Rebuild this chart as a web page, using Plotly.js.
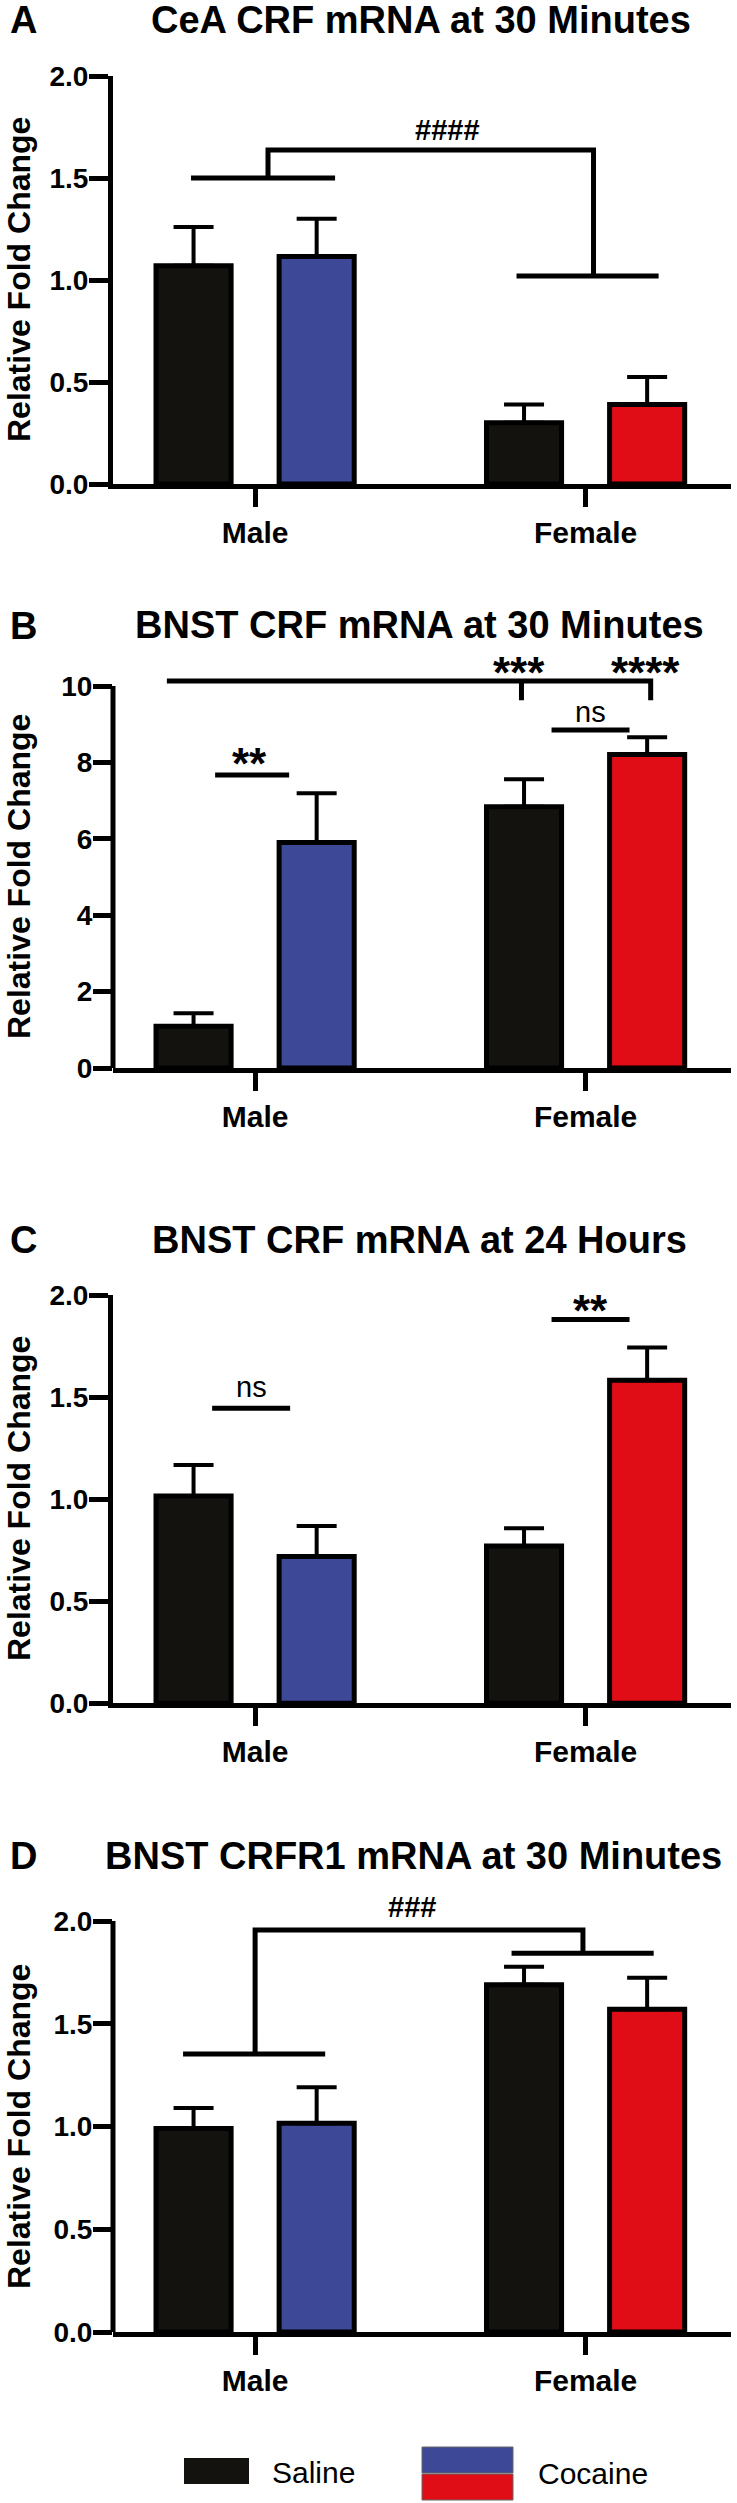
<!DOCTYPE html>
<html><head><meta charset="utf-8">
<script src="https://cdn.plot.ly/plotly-3.0.1.min.js"></script>
<style>html,body{margin:0;padding:0;background:#fff}#chart{width:737px;height:2503px}</style>
</head><body><div id="chart"></div>
<script>
// ---------------- DATA ----------------
const categories = ['Male', 'Female'];
const seriesNames = ['Saline', 'Cocaine'];
const panelLetters = ['A', 'B', 'C', 'D'];
const panelTitles = [
  'CeA CRF mRNA at 30 Minutes',
  'BNST CRF mRNA at 30 Minutes',
  'BNST CRF mRNA at 24 Hours',
  'BNST CRFR1 mRNA at 30 Minutes'
];
const yAxisTitle = 'Relative Fold Change';

// Panel A
const salineA = [1.07, 0.30];
const salineA_sem = [0.19, 0.09];
const cocaineA = [1.115, 0.39];
const cocaineA_sem = [0.185, 0.135];
// Panel B
const salineB = [1.09, 6.84];
const salineB_sem = [0.34, 0.72];
const cocaineB = [5.90, 8.21];
const cocaineB_sem = [1.29, 0.45];
// Panel C
const salineC = [1.016, 0.771];
const salineC_sem = [0.151, 0.086];
const cocaineC = [0.719, 1.582];
const cocaineC_sem = [0.149, 0.161];
// Panel D
const salineD = [0.99, 1.69];
const salineD_sem = [0.10, 0.088];
const cocaineD = [1.016, 1.571];
const cocaineD_sem = [0.175, 0.153];

const yTickValsSmall = [0, 0.5, 1, 1.5, 2];
const yTickTextSmall = ['0.0', '0.5', '1.0', '1.5', '2.0'];
const yTickValsB = [0, 2, 4, 6, 8, 10];
const yTickTextB = ['0', '2', '4', '6', '8', '10'];

const sigA = ['####'];
const sigB = ['**', '***', '****', 'ns'];
const sigC = ['ns', '**'];
const sigD = ['###'];

// ---------------- STYLE ----------------
const FONT = 'Liberation Sans, Arial, sans-serif';
const BLACK = '#13120e';
const BLUE = '#3d4996';
const RED = '#e00d16';
const W = 737, H = 2503;
const px2paperY = v => 1 - v / H;
const px2paperX = v => v / W;

const panels = [
  {sal: salineA, salE: salineA_sem, coc: cocaineA, cocE: cocaineA_sem,
   dom: [484, 76], range: [0, 2], tv: yTickValsSmall, tt: yTickTextSmall,
   titleY: 20, letterY: 20, titleX: 421, ytitleY: 280},
  {sal: salineB, salE: salineB_sem, coc: cocaineB, cocE: cocaineB_sem,
   dom: [1068, 666.9], range: [0, 10.5], tv: yTickValsB, tt: yTickTextB, hideLine: true, lineTop: 10,
   titleY: 625, letterY: 626, titleX: 420, ytitleY: 877},
  {sal: salineC, salE: salineC_sem, coc: cocaineC, cocE: cocaineC_sem,
   dom: [1703.3, 1295], range: [0, 2], tv: yTickValsSmall, tt: yTickTextSmall,
   titleY: 1240, letterY: 1240, titleX: 420, ytitleY: 1499},
  {sal: salineD, salE: salineD_sem, coc: cocaineD, cocE: cocaineD_sem,
   dom: [2332, 1890.2], range: [0, 2.15], tv: yTickValsSmall, tt: yTickTextSmall, hideLine: true, lineTop: 2,
   titleY: 1856, letterY: 1856, titleX: 413, ytitleY: 2127}
];

const traces = [];
const layout = {
  width: W, height: H,
  margin: {l: 0, r: 0, t: 0, b: 0},
  paper_bgcolor: '#fff', plot_bgcolor: '#fff',
  barmode: 'group', bargap: 0.255, bargroupgap: 0.39,
  showlegend: false,
  font: {family: FONT, color: '#000'},
  shapes: [], annotations: []
};

panels.forEach((p, i) => {
  const s = i === 0 ? '' : String(i + 1);
  const xa = 'x' + s, ya = 'y' + s;
  const errStyle = {type: 'data', symmetric: false, color: '#000', thickness: 4, width: 20};
  traces.push({
    type: 'bar', name: seriesNames[0], x: categories, y: p.sal,
    xaxis: xa, yaxis: ya,
    marker: {color: BLACK, line: {color: '#000', width: 5}},
    error_y: Object.assign({array: p.salE, arrayminus: p.salE.map(() => 0)}, errStyle),
    hoverinfo: 'skip'
  });
  traces.push({
    type: 'bar', name: seriesNames[1], x: categories, y: p.coc,
    xaxis: xa, yaxis: ya,
    marker: {color: [BLUE, RED], line: {color: '#000', width: 5}},
    error_y: Object.assign({array: p.cocE, arrayminus: p.cocE.map(() => 0)}, errStyle),
    hoverinfo: 'skip'
  });
  layout['xaxis' + s] = {
    domain: [113 / W, 731 / W], anchor: ya,
    type: 'category', categoryorder: 'array', categoryarray: categories,
    range: [-0.43, 1.44],
    showline: true, linewidth: 5, linecolor: '#000',
    ticks: 'outside', ticklen: 18, tickwidth: 5, tickcolor: '#000',
    tickfont: {family: FONT, size: 30, weight: 'bold', color: '#000'},
    showgrid: false, zeroline: false, fixedrange: true
  };
  layout['yaxis' + s] = {
    domain: [px2paperY(p.dom[0]), px2paperY(p.dom[1])], anchor: xa,
    range: p.range,
    showline: !p.hideLine, linewidth: 5, linecolor: '#000',
    ticks: 'outside', ticklen: 19, tickwidth: 5, tickcolor: '#000',
    tickvals: p.tv, ticktext: p.tt, ticklabelstandoff: -5,
    tickfont: {family: FONT, size: 28, weight: 'bold', color: '#000'},
    showgrid: false, zeroline: false, fixedrange: true
  };
  if (p.hideLine) {
    layout.shapes.push({type: 'line', xref: xa + ' domain', yref: ya,
      x0: 0, x1: 0, y0: 0, y1: p.lineTop, line: {color: '#000', width: 5}});
  }
  // panel letter
  layout.annotations.push({xref: 'paper', yref: 'paper', x: px2paperX(23), y: px2paperY(p.letterY),
    xanchor: 'center', yanchor: 'middle', showarrow: false, text: panelLetters[i],
    font: {family: FONT, size: 38, weight: 'bold', color: '#000'}});
  // title
  layout.annotations.push({xref: 'paper', yref: 'paper', x: px2paperX(p.titleX), y: px2paperY(p.titleY),
    xanchor: 'center', yanchor: 'middle', showarrow: false, text: panelTitles[i],
    font: {family: FONT, size: 38, weight: 'bold', color: '#000'}});
  // y axis title
  layout.annotations.push({xref: 'paper', yref: 'paper', x: px2paperX(19), y: px2paperY(p.ytitleY),
    xanchor: 'center', yanchor: 'middle', showarrow: false, text: yAxisTitle, textangle: -90,
    font: {family: FONT, size: 32, weight: 'bold', color: '#000'}});
});

// significance brackets
function bracket(s, path) {
  layout.shapes.push({type: 'path', xref: 'x' + s, yref: 'y' + s, path: path,
    line: {color: '#000', width: 5}});
}
function sig(s, text, x, y, size, bold) {
  layout.annotations.push({xref: 'x' + s, yref: 'y' + s, x: x, y: y, text: text,
    xanchor: 'center', yanchor: 'middle', showarrow: false,
    font: {family: FONT, size: size, weight: bold ? 'bold' : 'normal', color: '#000'}});
}
// A
bracket('', 'M -0.194,1.5 H 0.242');
bracket('', 'M 0.039,1.5 V 1.637 H 1.024 V 1.02');
bracket('', 'M 0.791,1.02 H 1.221');
sig('', sigA[0], 0.582, 1.735, 29, true);
// B
bracket('2', 'M -0.121,7.67 H 0.103');
bracket('2', 'M -0.267,10.13 H 1.197 V 9.63 M 0.806,10.13 V 9.63');
bracket('2', 'M 0.897,8.85 H 1.133');
sig('2', sigB[0], -0.018, 7.98, 44, true);
sig('2', sigB[1], 0.797, 10.35, 44, true);
sig('2', sigB[2], 1.182, 10.35, 44, true);
sig('2', sigB[3], 1.015, 9.31, 29, false);
// C
bracket('3', 'M -0.13,1.445 H 0.106');
bracket('3', 'M 0.897,1.88 H 1.133');
sig('3', sigC[0], -0.012, 1.547, 29, false);
sig('3', sigC[1], 1.015, 1.926, 44, true);
// D
bracket('4', 'M -0.218,1.353 H 0.212');
bracket('4', 'M 0,1.353 V 1.956 H 0.992 V 1.843');
bracket('4', 'M 0.776,1.843 H 1.206');
sig('4', sigD[0], 0.476, 2.07, 29, true);

// legend (drawn)
layout.shapes.push({type: 'rect', xref: 'paper', yref: 'paper',
  x0: px2paperX(184), x1: px2paperX(249), y0: px2paperY(2484), y1: px2paperY(2458),
  fillcolor: BLACK, line: {width: 0}});
layout.shapes.push({type: 'rect', xref: 'paper', yref: 'paper',
  x0: px2paperX(422), x1: px2paperX(513), y0: px2paperY(2473), y1: px2paperY(2447),
  fillcolor: BLUE, line: {color: '#666', width: 1}});
layout.shapes.push({type: 'rect', xref: 'paper', yref: 'paper',
  x0: px2paperX(422), x1: px2paperX(513), y0: px2paperY(2500), y1: px2paperY(2474),
  fillcolor: RED, line: {color: '#666', width: 1}});
layout.annotations.push({xref: 'paper', yref: 'paper', x: px2paperX(270), y: px2paperY(2472),
  xanchor: 'left', yanchor: 'middle', showarrow: false, text: seriesNames[0],
  font: {family: FONT, size: 30, color: '#000'}});
layout.annotations.push({xref: 'paper', yref: 'paper', x: px2paperX(536), y: px2paperY(2473),
  xanchor: 'left', yanchor: 'middle', showarrow: false, text: seriesNames[1],
  font: {family: FONT, size: 30, color: '#000'}});

Plotly.newPlot('chart', traces, layout, {staticPlot: true, displayModeBar: false});
</script>
</body></html>
